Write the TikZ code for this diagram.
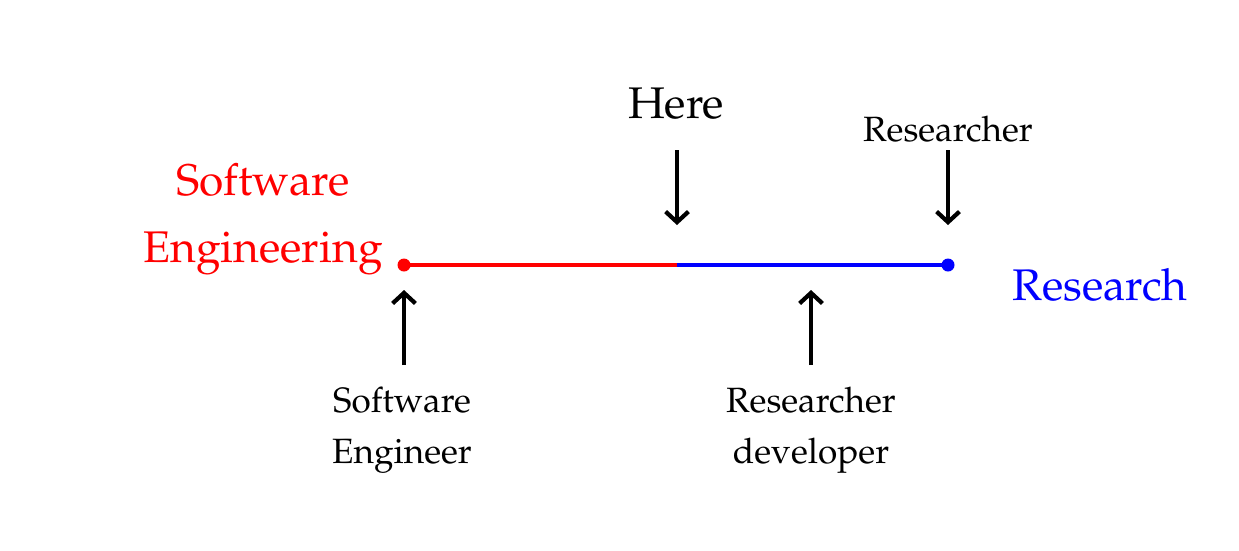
\documentclass[tikz,border=0pt]{standalone}
\usepackage[T1]{fontenc}
\usepackage{mathpazo}
\usetikzlibrary{arrows.meta}
\begin{document}
\begin{tikzpicture}[dot/.style={circle,inner sep=0pt,minimum size=1.3mm},
            arr/.style={-{Straight Barb[length=3pt,width=6.5pt]},line width=1.2pt},
            big/.style={font=\fontsize{12.6}{19}\selectfont,align=center},
            small/.style={font=\fontsize{10}{14.5}\selectfont,align=center}]
            \useasboundingbox (0,0) rectangle (12.39,5.5);

            \node[dot,fill=red] (se) at (4.04,2.85) {};
            \node[dot,fill=blue] (re) at (9.48,2.85) {};
            \coordinate (mid) at (6.77,2.85);

            \draw[red,line width=1pt] (se.center) to (mid);
            \draw[blue,line width=1pt] (mid) to (re.center);

            \node[big,red,anchor=base] (seng) at (2.63,2.88) {Software\\Engineering};
            \node[big,blue,anchor=base] (res) at (11.00,2.50) {Research};
            \node[big,anchor=base] (here) at (6.76,4.32) {Here};
            \node[small,anchor=base] (rsr) at (9.48,4.09) {Researcher};
            \node[small,anchor=base] (swe) at (4.02,0.87) {Software\\Engineer};
            \node[small,anchor=base] (rdev) at (8.11,0.87) {Researcher\\developer};

            \coordinate (a1) at (6.77,4.00);
            \coordinate (b1) at (6.77,3.25);
            \coordinate (a2) at (9.48,4.00);
            \coordinate (b2) at (9.48,3.25);
            \coordinate (a3) at (4.04,1.85);
            \coordinate (b3) at (4.04,2.60);
            \coordinate (a4) at (8.11,1.85);
            \coordinate (b4) at (8.11,2.60);

            \draw[arr] (a1) to (b1);
            \draw[arr] (a2) to (b2);
            \draw[arr] (a3) to (b3);
            \draw[arr] (a4) to (b4);
        \end{tikzpicture}
\end{document}
